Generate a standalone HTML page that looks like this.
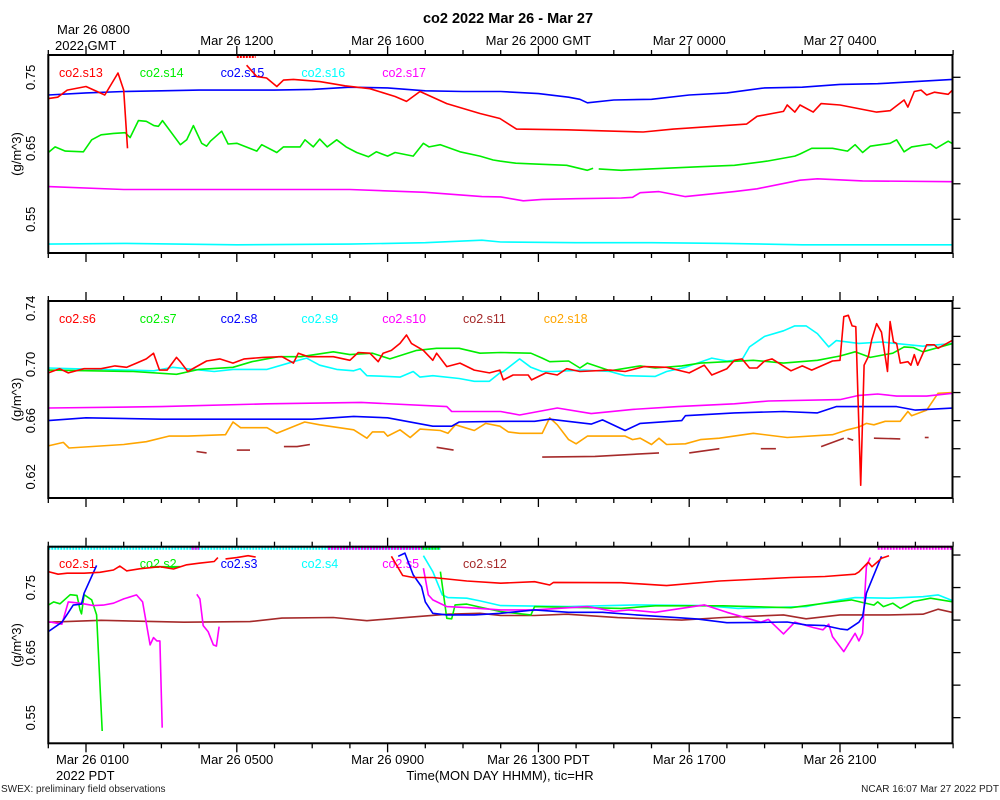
<!DOCTYPE html>
<html><head><meta charset="utf-8"><title>co2 2022 Mar 26 - Mar 27</title>
<style>
html,body{margin:0;padding:0;background:#fff;}
svg{display:block;font-family:"Liberation Sans",Arial,sans-serif;}
</style></head>
<body>
<svg id="chart" width="1000" height="800" viewBox="0 0 1000 800" xmlns="http://www.w3.org/2000/svg">
<rect width="1000" height="800" fill="#fff"/>
<text x="508" y="23" font-size="14.5" font-weight="bold" text-anchor="middle">co2 2022 Mar 26 - Mar 27</text>
<text x="57" y="34" font-size="13">Mar 26 0800</text>
<text x="55" y="50" font-size="13">2022 GMT</text>
<text x="56" y="780" font-size="13">2022 PDT</text>
<text x="500" y="780" font-size="13" text-anchor="middle">Time(MON DAY HHMM), tic=HR</text>
<text x="1" y="792" font-size="10" fill="#222">SWEX: preliminary field observations</text>
<text x="999" y="792" font-size="10" fill="#222" text-anchor="end">NCAR 16:07 Mar 27 2022 PDT</text>
<g id="plots"></g>
</svg>
<script>
// ---------- axis data ----------
const topTickHours = [1,5,9,13,17,21];
const topTickLabels = ["", "Mar 26 1200", "Mar 26 1600", "Mar 26 2000 GMT", "Mar 27 0000", "Mar 27 0400"];
const bottomTickLabels = ["Mar 26 0100", "Mar 26 0500", "Mar 26 0900", "Mar 26 1300 PDT", "Mar 26 1700", "Mar 26 2100"];
const p1YLabels = [0.55, 0.65, 0.75];
const p1YTicks = [0.55, 0.60, 0.65, 0.70, 0.75];
const p2YLabels = [0.62, 0.66, 0.70, 0.74];
const p2YTicks = [0.62, 0.64, 0.66, 0.68, 0.70, 0.72, 0.74];
const p3YLabels = [0.55, 0.65, 0.75];
const p3YTicks = [0.55, 0.60, 0.65, 0.70, 0.75, 0.80];
const p1Legend = ["co2.s13","co2.s14","co2.s15","co2.s16","co2.s17"];
const p2Legend = ["co2.s6","co2.s7","co2.s8","co2.s9","co2.s10","co2.s11","co2.s18"];
const p3Legend = ["co2.s1","co2.s2","co2.s3","co2.s4","co2.s5","co2.s12"];

// ---------- panel 1 series (hours since Mar 26 0000 PDT) ----------
const s13T = [0,0.25,0.5,1,1.5,1.85,2.0,2.1,3,5.26,5.53,5.79,6.06,6.24,6.5,7.2,7.87,8.53,9.2,9.5,9.86,10.57,11.45,11.98,12.42,13.75,15.78,16.58,18.52,18.8,19.5,19.6,19.8,19.94,20.29,20.5,21.0,21.97,22.33,22.7,22.8,22.97,23.15,23.3,23.5,23.87,24];
const s13V = [0.720,0.722,0.732,0.737,0.725,0.756,0.732,0.650,null,0.767,0.751,0.749,0.737,0.746,0.747,0.744,0.738,0.734,0.723,0.716,0.730,0.713,0.699,0.692,0.677,0.676,0.673,0.677,0.684,0.695,0.702,0.711,0.701,0.711,0.701,0.713,0.711,0.701,0.703,0.718,0.708,0.730,0.732,0.725,0.729,0.726,0.733];
const s14T = [0,0.18,0.45,0.93,1.15,1.4,1.73,2.04,2.17,2.39,2.6,2.8,2.92,3.03,3.5,3.67,3.85,4.07,4.2,4.3,4.6,4.77,5.0,5.53,5.66,6.06,6.24,6.68,6.81,7.03,7.2,7.4,7.65,7.9,8.18,8.49,8.7,9.0,9.2,9.68,9.95,10.1,10.4,10.92,11.45,11.8,11.98,12.4,12.86,13.75,14.3,14.45,14.5,14.6,15.2,15.97,17.3,18.2,19.07,19.8,19.94,20.25,20.8,21.2,21.4,21.6,21.8,22.33,22.5,22.7,22.9,23.4,23.55,23.87,24];
const s14V = [0.644,0.652,0.646,0.645,0.662,0.669,0.671,0.672,0.665,0.689,0.688,0.682,0.681,0.689,0.655,0.662,0.682,0.657,0.653,0.660,0.674,0.656,0.657,0.646,0.655,0.644,0.652,0.652,0.662,0.652,0.663,0.652,0.662,0.652,0.644,0.638,0.645,0.639,0.644,0.639,0.657,0.652,0.655,0.645,0.639,0.6335,0.632,0.629,0.628,0.626,0.619,0.622,null,0.621,0.619,0.621,0.624,0.626,0.632,0.639,0.642,0.650,0.650,0.646,0.655,0.644,0.653,0.657,0.662,0.645,0.652,0.656,0.650,0.660,0.656];
const s15T = [0,1,2,3,4,5,6,7,8,9,10,11,12,13,13.8,14.1,14.3,15,16,17,18,19,20,21,22,23,24];
const s15V = [0.725,0.728,0.730,0.731,0.732,0.732,0.732,0.733,0.736,0.735,0.731,0.730,0.730,0.727,0.722,0.719,0.714,0.718,0.719,0.725,0.728,0.735,0.736,0.740,0.741,0.744,0.747];
const s16T = [0,2,5,8,10,11.5,12,14,16,18,20,22,24];
const s16V = [0.515,0.516,0.514,0.515,0.517,0.5205,0.518,0.517,0.517,0.516,0.514,0.514,0.514];
const s17T = [0,2,5,8,10,11.5,12,12.6,13.1,14,15.2,15.5,15.7,16.2,16.9,18.2,18.8,19.94,20.4,21.6,24];
const s17V = [0.596,0.592,0.592,0.592,0.588,0.582,0.5815,0.576,0.578,0.579,0.580,0.581,0.5875,0.589,0.582,0.589,0.593,0.605,0.607,0.604,0.603];

// ---------- panel 2 series ----------
const s6T = [0,0.3,0.53,0.95,1.4,1.77,2.08,2.34,2.6,2.79,2.95,3.15,3.4,3.5,3.7,4.2,4.55,4.9,5.2,5.7,6.2,6.5,6.63,6.9,7.56,8.0,8.22,8.53,8.75,8.88,9.1,9.33,9.5,9.63,9.95,10.2,10.3,10.57,10.92,11.3,11.7,11.98,12.07,12.33,12.73,12.82,13.2,13.5,13.75,14.1,14.9,15.3,15.8,16.4,17.0,17.4,17.6,18.0,18.2,18.4,18.6,18.8,19.0,19.2,19.7,20.0,20.25,20.8,21.0,21.1,21.22,21.32,21.42,21.55,21.64,21.75,21.84,21.97,22.1,22.26,22.33,22.42,22.5,22.6,22.8,22.88,22.97,23.06,23.3,23.5,23.6,24];
const s6V = [0.694,0.697,0.694,0.697,0.697,0.699,0.698,0.701,0.704,0.708,0.696,0.696,0.705,0.702,0.695,0.7025,0.704,0.701,0.704,0.705,0.7055,0.701,0.708,0.7055,0.7055,0.703,0.7085,0.708,0.702,0.708,0.710,0.715,0.721,0.715,0.710,0.703,0.708,0.6985,0.701,0.696,0.694,0.696,0.689,0.6925,0.6925,0.689,0.694,0.6925,0.697,0.695,0.696,0.695,0.6985,0.698,0.694,0.6995,0.6925,0.697,0.703,0.704,0.6975,0.6975,0.7025,0.704,0.6955,0.699,0.696,0.7025,0.703,0.734,0.735,0.7275,0.727,0.614,0.6995,0.7055,0.7175,0.729,0.723,0.695,0.7305,0.716,0.715,0.701,0.702,0.6995,0.707,0.6995,0.714,0.714,0.7115,0.7175];
const s7T = [0,2.25,3.4,4.0,4.9,5.4,6.1,6.7,7.56,8.0,8.6,9.06,9.77,10.3,10.9,11.45,12,12.8,13.1,13.3,13.8,14.1,14.3,14.9,15.7,16.1,16.8,17.3,18.0,18.7,19.5,20.4,21.0,21.4,21.8,22.4,22.7,22.95,23.2,24];
const s7V = [0.696,0.695,0.693,0.6965,0.698,0.702,0.7055,0.7055,0.709,0.707,0.708,0.704,0.710,0.7115,0.7115,0.708,0.7085,0.708,0.7045,0.702,0.7025,0.6975,0.701,0.6955,0.699,0.6975,0.699,0.701,0.702,0.703,0.701,0.703,0.706,0.709,0.705,0.708,0.7125,0.712,0.709,0.715];
const s8T = [0,1,3,5,7,8.1,9,10.2,10.7,10.9,12,12.9,13.3,14.4,14.7,15.3,15.7,16.8,16.9,18.2,19.5,20.4,20.9,21.5,22.5,23.0,24];
const s8V = [0.660,0.662,0.661,0.661,0.661,0.663,0.662,0.656,0.656,0.659,0.6595,0.6595,0.661,0.6575,0.6605,0.653,0.658,0.660,0.6635,0.6655,0.6665,0.6655,0.670,0.670,0.670,0.6675,0.669];
const s9T = [0,2.8,3.3,4.4,4.9,5.8,6.5,6.85,7.2,7.65,8.1,8.27,8.45,8.98,9.33,9.68,9.86,10.2,10.9,11.3,11.7,11.98,12.07,12.5,12.8,13.1,13.4,14.2,14.9,15.3,16.1,16.4,16.9,17.6,18.0,18.4,18.6,19.0,19.5,19.8,20.1,20.4,20.7,20.9,21.5,22.1,23.2,24];
const s9V = [0.6975,0.6955,0.698,0.695,0.6965,0.6965,0.702,0.7045,0.6995,0.6965,0.6955,0.697,0.692,0.6915,0.691,0.695,0.691,0.692,0.690,0.688,0.688,0.694,0.695,0.704,0.698,0.695,0.695,0.696,0.695,0.692,0.6915,0.695,0.698,0.7045,0.7025,0.7035,0.7125,0.720,0.724,0.7275,0.7275,0.722,0.7125,0.717,0.715,0.716,0.713,0.715];
const s10T = [0,3,5.8,8.3,10.57,10.7,12,12.5,13.5,14.4,15.5,16.7,18.2,19.1,21.0,21.5,22.0,22.5,23.3,24];
const s10V = [0.669,0.670,0.672,0.673,0.670,0.6665,0.6665,0.664,0.669,0.665,0.668,0.670,0.672,0.674,0.675,0.678,0.679,0.6775,0.6775,0.6795];
const s11T = [3.93,4.2,4.5,5.0,5.35,5.7,6.25,6.6,6.94,7.5,10.3,10.75,11.5,13.1,14.5,16.2,16.25,17.0,17.8,18.3,18.9,19.3,19.8,20.5,21.1,21.15,21.2,21.35,21.6,21.9,22.6,23.0,23.25,23.35];
const s11V = [0.638,0.637,null,0.639,0.639,null,0.6415,0.6415,0.643,null,0.641,0.639,null,0.634,0.6345,0.637,null,0.637,0.640,null,0.640,0.640,null,0.6415,0.6475,null,0.6475,0.646,null,0.6475,0.647,null,0.648,0.648];
const s18T = [0,0.4,0.55,2.0,2.6,3.2,3.7,4.7,4.9,5.1,5.8,6.06,6.8,7.2,8.1,8.45,8.6,8.9,9.0,9.33,9.6,9.86,10.4,10.6,10.8,11.3,11.6,11.98,12.2,12.5,13.1,13.3,13.5,13.8,14.0,14.3,15.3,15.5,15.7,16.0,16.2,16.4,16.9,17.3,17.8,18.7,19.6,20.8,21.2,21.5,21.7,21.9,22.2,22.6,22.8,22.9,23.3,23.6,24];
const s18V = [0.642,0.6445,0.6405,0.643,0.645,0.649,0.649,0.650,0.659,0.655,0.655,0.651,0.659,0.657,0.6535,0.6475,0.652,0.652,0.649,0.6535,0.648,0.654,0.653,0.651,0.657,0.653,0.658,0.656,0.652,0.651,0.651,0.662,0.657,0.6465,0.6435,0.649,0.649,0.6465,0.6475,0.643,0.6475,0.643,0.6435,0.6465,0.6475,0.651,0.648,0.650,0.6535,0.6555,0.658,0.657,0.6595,0.6595,0.6665,0.6635,0.6675,0.6795,0.680];

// ---------- panel 3 series ----------
const s1T = [0,0.26,0.5,0.95,1.37,1.73,1.9,2.08,2.44,2.96,3.32,3.67,4.0,4.4,4.5,4.6,4.7,5.0,5.3,5.5,5.6,9.1,9.4,9.68,10.2,11.1,12,12.9,13.3,13.4,15.2,16.4,17.8,19.7,20.6,21.4,21.5,21.75,21.85,22.1,22.3];
const s1V = [0.7746,0.7705,0.772,0.772,0.7735,0.777,0.783,0.7756,0.779,0.782,0.7785,0.785,0.7875,0.790,0.796,null,0.794,0.796,0.799,0.797,null,0.798,0.7685,0.7654,0.7654,0.760,0.7567,0.759,0.754,0.758,0.7575,0.753,0.760,0.7654,0.767,0.7705,0.774,0.789,0.782,0.795,0.799];
const s2T = [0,0.14,0.31,0.58,0.76,0.84,0.88,0.95,1.15,1.28,1.43,1.8,2.7,3.5,3.6,10.4,10.57,10.7,10.79,11.1,11.45,12,12.8,12.9,15.2,16.1,17.9,19.7,20.6,21.3,21.9,22.0,22.15,22.4,22.6,22.95,23.4,24];
const s2V = [0.723,0.728,0.725,0.739,0.738,0.7156,0.7095,0.739,0.731,0.708,0.5295,null,0.782,0.782,null,0.7746,0.7028,0.702,0.7233,0.7245,0.720,0.713,0.708,0.7207,0.718,0.722,0.722,0.719,0.726,0.731,0.723,0.728,0.7207,0.726,0.718,0.7285,0.7336,0.728];
const s3T = [0,0.36,0.49,0.66,0.88,0.95,1.28,1.5,9.28,9.46,9.68,9.9,10.0,10.2,10.57,11.3,12,12.9,13.8,14.7,15.6,17.2,18.0,18.9,19.6,20.1,20.6,21.0,21.2,21.5,21.6,21.7,22.1];
const s3V = [0.6823,0.6967,0.708,0.723,0.7245,0.7413,0.784,null,0.798,0.803,0.7695,0.7515,0.728,0.7105,0.708,0.708,0.7105,0.7156,0.712,0.712,0.708,0.7018,0.696,0.6965,0.697,0.6926,0.6915,0.6864,0.685,0.6967,0.7054,0.7413,0.798];
const s4T = [9.95,10.2,10.45,10.6,11.1,11.45,12,13.8,15.6,17.4,18.3,20.1,21.0,21.4,22.3,23.2,23.6,24];
const s4V = [0.799,0.7746,0.7387,0.7346,0.7336,0.7295,0.7223,0.7207,0.7233,0.7223,0.718,0.7207,0.731,0.7346,0.7336,0.736,0.7387,0.7295];
const s5T = [0,0.36,0.53,0.84,1.2,1.46,1.73,2.0,2.34,2.5,2.7,2.79,2.88,2.96,3.02,3.5,3.94,4.02,4.11,4.24,4.38,4.46,4.53,5,9.95,10.08,10.2,10.57,11.1,12,12.9,13.5,14.3,15.0,15.4,16.1,17.4,18.0,18.9,19.1,19.5,19.8,20.3,20.55,20.7,20.8,21.1,21.4,21.5,21.6,21.7,21.8];
const s5V = [0.6977,0.6936,0.728,0.726,0.7223,0.723,0.726,0.7326,0.7387,0.728,0.6618,0.673,0.668,0.668,0.5346,null,0.7397,0.7326,0.6915,0.6823,0.6618,0.660,0.690,null,0.7797,0.7387,0.731,0.7207,0.7192,0.7156,0.7156,0.718,0.7207,0.7135,0.7156,0.712,0.7233,0.712,0.6967,0.701,0.6787,0.6967,0.6885,0.685,0.6936,0.6746,0.6515,0.6797,0.668,0.6797,0.7823,0.796];
const s12T = [0,1.4,3.6,5.35,6.2,7.56,8.45,9.3,10.6,11.45,12,12.9,13.75,15.1,16.8,17.9,19.5,20.1,21.0,22.3,23.2,23.6,24];
const s12V = [0.6967,0.6997,0.6967,0.6977,0.703,0.704,0.699,0.703,0.709,0.7105,0.707,0.707,0.709,0.7038,0.700,0.704,0.708,0.702,0.708,0.708,0.709,0.7167,0.7115];

// ---------- drawing ----------
const NS = "http://www.w3.org/2000/svg";
const root = document.getElementById("plots");
const X0 = 48.3, PXH = 37.7, XR = 952.5;
function xOf(t){ return X0 + t*PXH; }
function mk(tag, attrs, parent){
  const e = document.createElementNS(NS, tag);
  for (const k in attrs) e.setAttribute(k, attrs[k]);
  (parent||root).appendChild(e);
  return e;
}
const panels = [
  {top:55, bottom:253, vmin:0.5025, vmax:0.7814, labels:p1YLabels, ticks:p1YTicks, legend:p1Legend, legendY:77, fmt:2},
  {top:301, bottom:498, vmin:0.6049, vmax:0.7452, labels:p2YLabels, ticks:p2YTicks, legend:p2Legend, legendY:323, fmt:2},
  {top:546.7, bottom:743.3, vmin:0.5106, vmax:0.8128, labels:p3YLabels, ticks:p3YTicks, legend:p3Legend, legendY:568, fmt:2}
];
function yOf(p, v){ return p.bottom - (v - p.vmin)/(p.vmax - p.vmin)*(p.bottom - p.top); }
const legendColors = [
  ["#ff0000","#00ee00","#0000ff","#00ffff","#ff00ff"],
  ["#ff0000","#00ee00","#0000ff","#00ffff","#ff00ff","#a52a2a","#ffa500"],
  ["#ff0000","#00ee00","#0000ff","#00ffff","#ff00ff","#a52a2a"]
];

panels.forEach((p, pi) => {
  const g = mk("g", {});
  
  
  for (let h = 0; h <= 24; h++) {
    const x = xOf(h);
    const major = (h % 4 === 1);
    const len = major ? 9 : 5;
    const t1 = mk("line", {x1:x, y1:p.top-len, x2:x, y2:p.top, stroke:"#000", "stroke-width":1.3}, g);
    
    
    const t2 = mk("line", {x1:x, y1:p.bottom, x2:x, y2:p.bottom+len, stroke:"#000", "stroke-width":1.3}, g);
    
    
  }
  p.ticks.forEach(v => {
    const y = yOf(p, v);
    const tk = mk("line", {x1:XR, y1:y, x2:XR+8, y2:y, stroke:"#000", "stroke-width":1.3}, g);
    
    
  });
  p.labels.forEach(v => {
    const y = yOf(p, v);
    const tx = mk("text", {x:0, y:0, "font-size":13, "text-anchor":"middle", transform:"translate(35,"+y+") rotate(-90)"}, g);
    tx.textContent = v.toFixed(p.fmt);
    
    
  });
  const yt = mk("text", {x:0, y:0, "font-size":13, "text-anchor":"middle", transform:"translate(21,"+((p.top+p.bottom)/2)+") rotate(-90)"}, g);
  yt.textContent = "(g/m^3)";
  
  
  p.legend.forEach((name, i) => {
    const lt = mk("text", {x:59 + i*80.8, y:p.legendY, "font-size":12.5, fill:legendColors[pi][i]}, g);
    lt.textContent = name;
    
    
  });
});

topTickHours.forEach((h, i) => {
  if (!topTickLabels[i]) return;
  const t = mk("text", {x:xOf(h), y:45, "font-size":13, "text-anchor":"middle"});
  t.textContent = topTickLabels[i];
  
  
});
topTickHours.forEach((h, i) => {
  const x = i === 0 ? 92.5 : xOf(h);
  const t = mk("text", {x:x, y:764, "font-size":13, "text-anchor":"middle"});
  t.textContent = bottomTickLabels[i];
  
  
});

function series(pi, T, V, color, name){
  const p = panels[pi];
  let segs = [], cur = [];
  for (let i = 0; i < T.length; i++) {
    if (V[i] === null) { if (cur.length) segs.push(cur); cur = []; continue; }
    cur.push(xOf(T[i]).toFixed(1) + "," + yOf(p, V[i]).toFixed(1));
  }
  if (cur.length) segs.push(cur);
  const g = mk("g", {"clip-path":"url(#clip"+pi+")"});
  
  
  segs.forEach(s => {
    const pl = mk("polyline", {points:s.join(" "), fill:"none", stroke:color, "stroke-width":1.6, "stroke-linejoin":"round"}, g);
    
    
  });
}
const defs = mk("defs", {});
panels.forEach((p, pi) => {
  const cp = mk("clipPath", {id:"clip"+pi}, defs);
  mk("rect", {x:X0, y:p.top, width:XR-X0, height:p.bottom-p.top}, cp);
});

series(0, s16T, s16V, "#00ffff", "s16");
series(0, s17T, s17V, "#ff00ff", "s17");
series(0, s14T, s14V, "#00ee00", "s14");
series(0, s15T, s15V, "#0000ff", "s15");
series(0, s13T, s13V, "#ff0000", "s13");

series(1, s11T, s11V, "#a52a2a", "s11");
series(1, s18T, s18V, "#ffa500", "s18");
series(1, s8T, s8V, "#0000ff", "s8");
series(1, s10T, s10V, "#ff00ff", "s10");
series(1, s9T, s9V, "#00ffff", "s9");
series(1, s7T, s7V, "#00ee00", "s7");
series(1, s6T, s6V, "#ff0000", "s6");

series(2, s12T, s12V, "#a52a2a", "s12");
series(2, s4T, s4V, "#00ffff", "s4");
series(2, s2T, s2V, "#00ee00", "s2");
series(2, s5T, s5V, "#ff00ff", "s5");
series(2, s3T, s3V, "#0000ff", "s3");
series(2, s1T, s1V, "#ff0000", "s1");

const oorStart = [0, 3.8, 7.42, 9.92, 22.0, 5.0];
const oorEnd   = [10.4, 4.0, 9.92, 10.4, 24, 5.5];
const oorColor = ["#00ffff","#ff00ff","#ff00ff","#00ee00","#ff00ff","#ff0000"];
const oorPanel = [2,2,2,2,2,0];
oorStart.forEach((s, i) => {
  const p = panels[oorPanel[i]];
  const m = mk("line", {x1:xOf(s), y1:p.top+1, x2:xOf(oorEnd[i]), y2:p.top+1, stroke:oorColor[i], "stroke-width":4, "stroke-dasharray":"2 1"});
  
  
});

panels.forEach((p, pi) => {
  const r = mk("rect", {x:X0, y:p.top, width:XR-X0, height:p.bottom-p.top, fill:"none", stroke:"#000", "stroke-width":2});
  
  
});
</script>
</body></html>
